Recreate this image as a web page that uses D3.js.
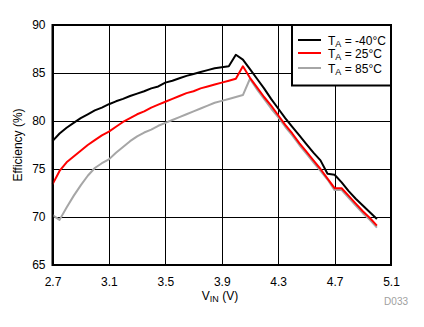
<!DOCTYPE html>
<html><head><meta charset="utf-8">
<script src="https://cdn.jsdelivr.net/npm/d3@7"></script>
<style>body{margin:0;background:#fff}svg{display:block;font-family:"Liberation Sans",Arial,sans-serif}</style>
</head><body>
<script>
const vin = [2.70,2.75,2.80,2.85,2.90,2.95,3.00,3.05,3.10,3.15,3.20,3.25,3.30,3.35,3.40,3.45,3.50,3.55,3.60,3.65,3.70,3.75,3.80,3.85,3.90,3.95,4.00,4.05,4.10,4.15,4.20,4.25,4.30,4.35,4.40,4.45,4.50,4.55,4.60,4.65,4.70,4.75,4.80,4.85,4.90,4.95,5.00];
const effM40 = [77.9,78.7,79.3,79.8,80.3,80.7,81.1,81.4,81.75,82.05,82.3,82.6,82.85,83.1,83.4,83.6,84.0,84.2,84.45,84.7,84.9,85.1,85.3,85.5,85.6,85.7,86.9,86.4,85.4,84.4,83.4,82.3,81.3,80.3,79.4,78.5,77.6,76.7,75.9,74.5,74.4,73.6,72.7,71.9,71.2,70.5,69.8];
const eff25 = [73.4,74.8,75.7,76.3,76.9,77.5,78.0,78.5,78.9,79.4,79.9,80.3,80.7,81.0,81.4,81.7,82.0,82.3,82.6,82.9,83.1,83.4,83.6,83.8,84.0,84.2,84.4,85.7,84.5,83.5,82.5,81.6,80.6,79.6,78.7,77.7,76.8,75.9,75.0,74.0,73.0,73.0,72.2,71.4,70.6,69.9,69.1];
const eff85 = [70.2,69.7,71.0,72.2,73.3,74.3,75.1,75.6,76.0,76.7,77.3,77.9,78.4,78.8,79.1,79.5,79.8,80.1,80.4,80.7,81.0,81.3,81.6,81.9,82.1,82.3,82.5,82.7,84.4,83.3,82.3,81.3,80.4,79.4,78.5,77.5,76.6,75.7,74.8,73.9,72.8,72.8,72.0,71.2,70.4,69.7,68.9];
const xTicks = [2.7,3.1,3.5,3.9,4.3,4.7,5.1];
const yTicks = [65,70,75,80,85,90];
const seriesNames = ["-40°C","25°C","85°C"];
const seriesColors = ["#000000","#ff0000","#a6a6a6"];
const seriesData = [effM40, eff25, eff85];

const W=424,H=327;
const svg=d3.select("body").append("svg").attr("width",W).attr("height",H);
const L=52.5,R=391,T=25,B=265;
const x=d3.scaleLinear().domain([2.7,5.1]).range([L,R]);
const y=d3.scaleLinear().domain([65,90]).range([B,T]);

// grid
svg.append("g").selectAll("line").data(xTicks).join("line")
  .attr("x1",d=>Math.round(x(d))+0.5).attr("x2",d=>Math.round(x(d))+0.5).attr("y1",T).attr("y2",B)
  .attr("stroke","#000").attr("stroke-width",1);
svg.append("g").selectAll("line").data(yTicks).join("line")
  .attr("y1",d=>Math.round(y(d))+0.5).attr("y2",d=>Math.round(y(d))+0.5).attr("x1",L).attr("x2",R)
  .attr("stroke","#000").attr("stroke-width",1);

// axes labels
const xa=svg.append("g").attr("transform",`translate(0,${B})`)
  .call(d3.axisBottom(x).tickValues(xTicks).tickSize(0).tickPadding(12).tickFormat(d3.format(".1f")));
xa.select(".domain").remove();
xa.selectAll("text").attr("font-size",12).attr("font-family","Liberation Sans, Arial, sans-serif").attr("fill","#000");
const ya=svg.append("g").attr("transform",`translate(${L},0)`)
  .call(d3.axisLeft(y).tickValues(yTicks).tickSize(0).tickPadding(7));
ya.select(".domain").remove();
ya.selectAll("text").attr("font-size",12).attr("font-family","Liberation Sans, Arial, sans-serif").attr("fill","#000");

// lines
const line=d3.line().x((d,i)=>x(vin[i])).y(d=>y(d));
seriesData.slice().reverse().forEach((s,k)=>{
  const i=seriesData.length-1-k;
  svg.append("path").datum(s).attr("d",line).attr("fill","none")
    .attr("stroke",seriesColors[i]).attr("stroke-width",2).attr("stroke-linejoin","round");
});

// frame
svg.append("rect").attr("x",L).attr("y",T).attr("width",R-L).attr("height",B-T)
  .attr("fill","none").attr("stroke","#000").attr("stroke-width",2);

// legend
const lg=svg.append("g");
lg.append("rect").attr("x",292).attr("y",T).attr("width",R-292).attr("height",60.5)
  .attr("fill","#fff").attr("stroke","#000").attr("stroke-width",2);
const ly=[40,53,68];
seriesNames.forEach((n,i)=>{
  lg.append("line").attr("x1",298).attr("x2",321).attr("y1",ly[i]).attr("y2",ly[i])
    .attr("stroke",seriesColors[i]).attr("stroke-width",2);
  const t=lg.append("text").attr("x",328).attr("y",ly[i]+4.5).attr("font-size",12).attr("fill","#000");
  t.append("tspan").text("T");
  t.append("tspan").attr("font-size",9).attr("dy",2).text("A");
  t.append("tspan").attr("dy",-2).text(" = "+n);
});

// axis titles
const xt=svg.append("text").attr("x",220).attr("y",300).attr("text-anchor","middle").attr("font-size",12).attr("fill","#000");
xt.append("tspan").text("V");
xt.append("tspan").attr("font-size",9).attr("dy",2).text("IN");
xt.append("tspan").attr("dy",-2).text(" (V)");
svg.append("text").attr("transform","translate(22,145) rotate(-90)").attr("text-anchor","middle")
  .attr("font-size",12).attr("fill","#000").text("Efficiency (%)");
svg.append("text").attr("x",408).attr("y",305).attr("text-anchor","end").attr("font-size",10).attr("fill","#a0a0a0").text("D033");
</script>
</body></html>
